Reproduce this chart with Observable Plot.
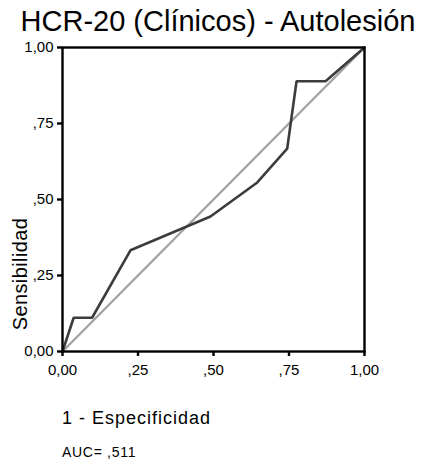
<!DOCTYPE html>
<html>
<head>
<meta charset="utf-8">
<script src="https://cdn.jsdelivr.net/npm/d3@7"></script>
<script src="https://cdn.jsdelivr.net/npm/@observablehq/plot@0.6"></script>
<style>
  html, body { margin: 0; padding: 0; background: #fff; }
  #wrap { position: relative; width: 422px; height: 466px; font-family: "Liberation Sans", Arial, sans-serif; color: #000; overflow: hidden; }
  #title { position: absolute; left: 0; top: 3px; width: 436px; text-align: center; font-size: 29px; line-height: 36px; white-space: nowrap; }
  #chart { position: absolute; left: 0; top: 30px; }
  #ylabel { position: absolute; left: 20px; top: 274px; width: 0; height: 0; }
  #ylabel span { position: absolute; left: 0; top: 0; transform: translate(-50%, -50%) rotate(-90deg); font-size: 20px; line-height: 22px; letter-spacing: 0.4px; white-space: nowrap; }
  #xlabel { position: absolute; left: 62px; top: 407px; font-size: 18px; line-height: 22px; letter-spacing: 1px; white-space: nowrap; }
  #auc { position: absolute; left: 62px; top: 443px; font-size: 14px; line-height: 18px; letter-spacing: 0.7px; white-space: nowrap; }
</style>
</head>
<body>
<div id="wrap">
  <div id="title"></div>
  <div id="chart"></div>
  <div id="ylabel"><span></span></div>
  <div id="xlabel"></div>
  <div id="auc"></div>
</div>
<script>
const titleText = "HCR-20 (Clínicos) - Autolesión";
const xLabelText = "1 - Especificidad";
const yLabelText = "Sensibilidad";
const aucText = "AUC= ,511";

// ROC curve (1 - specificity, sensitivity)
const fpr = [0, 0.037, 0.098, 0.225, 0.49, 0.645, 0.744, 0.775, 0.871, 1];
const tpr = [0, 0.111, 0.111, 0.333, 0.444, 0.556, 0.667, 0.889, 0.889, 1];

// reference diagonal
const diagX = [0, 1];
const diagY = [0, 1];

const tickValues = [0, 0.25, 0.5, 0.75, 1];
const tickLabels = ["0,00", ",25", ",50", ",75", "1,00"];

const roc = fpr.map((x, i) => ({x, y: tpr[i]}));
const diag = diagX.map((x, i) => ({x, y: diagY[i]}));
const fmt = v => tickLabels[tickValues.indexOf(v)];

document.getElementById("title").textContent = titleText;
document.getElementById("xlabel").textContent = xLabelText;
document.querySelector("#ylabel span").textContent = yLabelText;
document.getElementById("auc").textContent = aucText;

const chart = Plot.plot({
  width: 422,
  height: 360,
  marginTop: 17,
  marginLeft: 62,
  marginRight: 58,
  marginBottom: 39,
  style: {fontFamily: "'Liberation Sans', Arial, sans-serif", fontSize: "15px", color: "#000", background: "transparent"},
  x: {domain: [0, 1], ticks: tickValues, tickFormat: fmt, label: null},
  y: {domain: [0, 1], ticks: tickValues, tickFormat: fmt, label: null},
  marks: [
    Plot.line(diag, {x: "x", y: "y", stroke: "#a3a3a3", strokeWidth: 2.4}),
    Plot.line(roc, {x: "x", y: "y", stroke: "#3c3c3c", strokeWidth: 2.6, strokeLinejoin: "miter"}),
    Plot.frame({stroke: "#000", strokeWidth: 2.4}),
    Plot.axisX({ticks: tickValues, tickFormat: fmt, tickSize: 5, tickPadding: 8, strokeWidth: 2.4, stroke: "#000", fill: "#000", label: null}),
    Plot.axisY({ticks: tickValues, tickFormat: fmt, tickSize: 5, tickPadding: 4, strokeWidth: 2.4, stroke: "#000", fill: "#000", label: null})
  ]
});
document.getElementById("chart").appendChild(chart);
</script>
</body>
</html>
